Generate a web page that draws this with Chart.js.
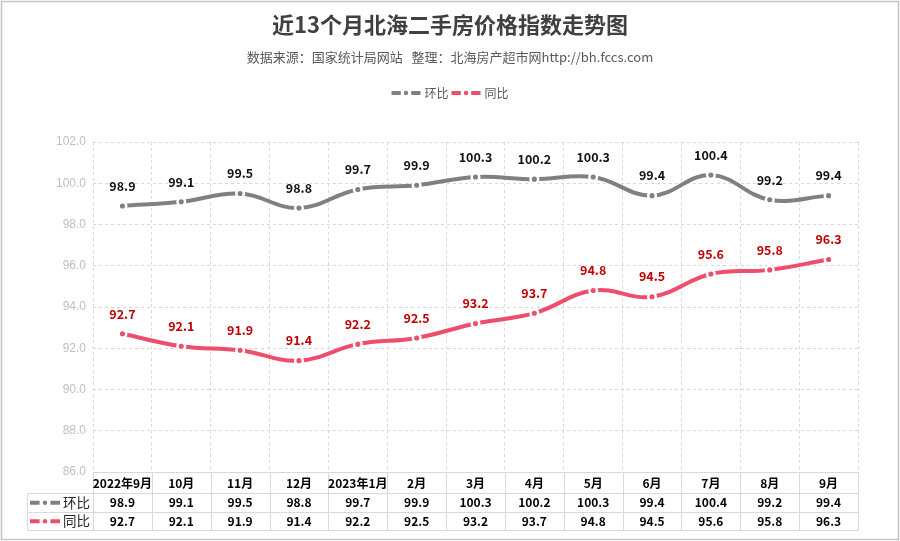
<!DOCTYPE html>
<html><head><meta charset="utf-8">
<script src="https://cdn.jsdelivr.net/npm/chart.js@4.4.0/dist/chart.umd.min.js"></script>
<style>html,body{margin:0;padding:0;background:#fff;}#wrap{width:900px;height:541px;position:relative;}</style>
</head><body><div id="wrap"><canvas id="c" width="900" height="541"></canvas></div>
<script>
// ---- data ----
const categories = ['2022年9月','10月','11月','12月','2023年1月','2月','3月','4月','5月','6月','7月','8月','9月'];
const hbValues = [98.9, 99.1, 99.5, 98.8, 99.7, 99.9, 100.3, 100.2, 100.3, 99.4, 100.4, 99.2, 99.4];
const tbValues = [92.7, 92.1, 91.9, 91.4, 92.2, 92.5, 93.2, 93.7, 94.8, 94.5, 95.6, 95.8, 96.3];
const seriesNames = ['环比', '同比'];
const yMin = 86, yMax = 102, yStep = 2;
const titleText = '近13个月北海二手房价格指数走势图';
const subtitleText = '数据来源：国家统计局网站   整理：北海房产超市网http://bh.fccs.com';

const FONT = "'Noto Sans CJK SC','Noto Sans',sans-serif";
const GRAY = '#808080', PINK = '#ee4d6b';
const LABEL_COLORS = ['#111111', '#c00000'];

function drawKey(ctx, x, y, w, color) {
  ctx.save();
  ctx.fillStyle = color;
  const seg = w * 0.32;
  ctx.fillRect(x, y - 2, seg, 4);
  ctx.fillRect(x + w - seg, y - 2, seg, 4);
  ctx.beginPath();
  ctx.arc(x + w / 2, y, 2.2, 0, Math.PI * 2);
  ctx.fill();
  ctx.restore();
}

const framePlugin = {
  id: 'frame',
  beforeDraw(chart) {
    const ctx = chart.ctx;
    ctx.save();
    ctx.fillStyle = '#fff';
    ctx.fillRect(0, 0, chart.width, chart.height);
    ctx.restore();
  },
  afterDraw(chart) {
    const ctx = chart.ctx;
    ctx.save();
    ctx.strokeStyle = '#c4c4c4';
    ctx.lineWidth = 1.5;
    ctx.strokeRect(1.5, 1.5, chart.width - 3, chart.height - 3);
    ctx.restore();
  }
};

const legendPlugin = {
  id: 'customLegend',
  afterDraw(chart) {
    const ctx = chart.ctx;
    const colors = [GRAY, PINK];
    ctx.save();
    ctx.font = '12px ' + FONT;
    const mw = 29, gap1 = 4, gap2 = 3;
    let total = 0;
    seriesNames.forEach((n, i) => { total += mw + gap1 + ctx.measureText(n).width + (i < seriesNames.length - 1 ? gap2 : 0); });
    let x = chart.width / 2 - total / 2;
    const y = 93;
    ctx.textBaseline = 'middle';
    ctx.textAlign = 'left';
    seriesNames.forEach((n, i) => {
      drawKey(ctx, x, y, mw, colors[i]);
      x += mw + gap1;
      ctx.fillStyle = '#595959';
      ctx.fillText(n, x, y);
      x += ctx.measureText(n).width + gap2;
    });
    ctx.restore();
  }
};

const labelPlugin = {
  id: 'pointLabels',
  afterDatasetsDraw(chart) {
    const ctx = chart.ctx;
    ctx.save();
    ctx.font = 'bold 12.5px ' + FONT;
    ctx.textAlign = 'center';
    ctx.textBaseline = 'middle';
    chart.data.datasets.forEach((ds, di) => {
      const meta = chart.getDatasetMeta(di);
      ctx.fillStyle = LABEL_COLORS[di];
      meta.data.forEach((pt, i) => {
        ctx.fillText(ds.data[i].toFixed(1), pt.x, pt.y - 20);
      });
    });
    ctx.restore();
  }
};

const tablePlugin = {
  id: 'dataTable',
  afterDraw(chart) {
    const ctx = chart.ctx;
    const xs = chart.scales.x;
    const a = chart.chartArea;
    const n = categories.length;
    const centers = categories.map((c, i) => xs.getPixelForValue(i));
    const bounds = [a.left];
    for (let i = 0; i < n - 1; i++) bounds.push((centers[i] + centers[i + 1]) / 2);
    bounds.push(a.right);
    const keyLeft = 27;
    const y0 = a.bottom, y1 = y0 + 21, y2 = y1 + 18.5, y3 = y2 + 18.5;
    const crisp = v => Math.round(v) + 0.5;
    ctx.save();
    ctx.strokeStyle = '#d9d9d9';
    ctx.lineWidth = 1;
    ctx.beginPath();
    ctx.moveTo(a.left, crisp(y0)); ctx.lineTo(a.right, crisp(y0));
    [y1, y2, y3].forEach(y => { ctx.moveTo(keyLeft, crisp(y)); ctx.lineTo(a.right, crisp(y)); });
    bounds.forEach(b => { ctx.moveTo(crisp(b), y0); ctx.lineTo(crisp(b), crisp(y3)); });
    ctx.moveTo(crisp(keyLeft), crisp(y1)); ctx.lineTo(crisp(keyLeft), crisp(y3));
    ctx.stroke();

    ctx.textAlign = 'center';
    ctx.textBaseline = 'middle';
    ctx.fillStyle = '#000';
    ctx.font = 'bold 12px ' + FONT;
    categories.forEach((c, i) => ctx.fillText(c, centers[i], (y0 + y1) / 2 + 0.5));
    const rows = [hbValues, tbValues];
    const rowMid = [(y1 + y2) / 2 + 0.5, (y2 + y3) / 2 + 0.5];
    rows.forEach((vals, r) => {
      vals.forEach((v, i) => ctx.fillText(v.toFixed(1), centers[i], rowMid[r]));
    });
    const colors = [GRAY, PINK];
    ctx.font = '13.5px ' + FONT;
    ctx.textAlign = 'left';
    seriesNames.forEach((nm, r) => {
      drawKey(ctx, 30, rowMid[r], 30, colors[r]);
      ctx.fillStyle = '#262626';
      ctx.fillText(nm, 63, rowMid[r]);
    });
    ctx.restore();
  }
};

Chart.defaults.font.family = FONT;

new Chart(document.getElementById('c'), {
  type: 'line',
  data: {
    labels: categories,
    datasets: [
      {
        label: seriesNames[0], data: hbValues, yAxisID: 'y',
        borderColor: GRAY, backgroundColor: GRAY, borderWidth: 4,
        pointRadius: 3.8, pointBackgroundColor: GRAY, pointBorderColor: '#fff', pointBorderWidth: 2.5,
        tension: 0.4, fill: false
      },
      {
        label: seriesNames[1], data: tbValues, yAxisID: 'y',
        borderColor: PINK, backgroundColor: PINK, borderWidth: 4,
        pointRadius: 3.8, pointBackgroundColor: PINK, pointBorderColor: '#fff', pointBorderWidth: 2.5,
        tension: 0.4, fill: false
      }
    ]
  },
  options: {
    responsive: false,
    animation: false,
    devicePixelRatio: 1,
    layout: { padding: { left: 0, right: 0, top: 0, bottom: 69 } },
    plugins: {
      legend: { display: false },
      tooltip: { enabled: false },
      title: {
        display: true, text: titleText, color: '#404040',
        font: { size: 22, weight: 'bold', family: FONT, lineHeight: 1.2 },
        padding: { top: 11, bottom: 0 }
      },
      subtitle: {
        display: true, text: subtitleText, color: '#595959',
        font: { size: 13, family: FONT, lineHeight: 1.2 },
        padding: { top: 12, bottom: 77 }
      }
    },
    scales: {
      x: {
        type: 'category',
        offset: true,
        grid: { offset: true, color: '#d9d9d9', lineWidth: 1, drawTicks: false },
        border: { display: false, dash: [3, 3] },
        ticks: { display: false }
      },
      y: {
        position: 'left',
        min: yMin, max: yMax,
        afterFit(scale) { scale.width = 93; },
        grid: { color: '#d9d9d9', lineWidth: 1, drawTicks: false },
        border: { display: false, dash: [3, 3] },
        ticks: {
          stepSize: yStep, padding: 7, color: '#bfbfbf',
          font: { size: 12, family: "'Liberation Sans', Arial, sans-serif" },
          callback: v => Number(v).toFixed(1)
        }
      },
      yRight: {
        position: 'right',
        display: true,
        afterFit(scale) { scale.width = 42; },
        grid: { display: false, drawTicks: false },
        border: { display: false },
        ticks: { display: false }
      }
    }
  },
  plugins: [framePlugin, legendPlugin, labelPlugin, tablePlugin]
});
</script>
</body></html>
